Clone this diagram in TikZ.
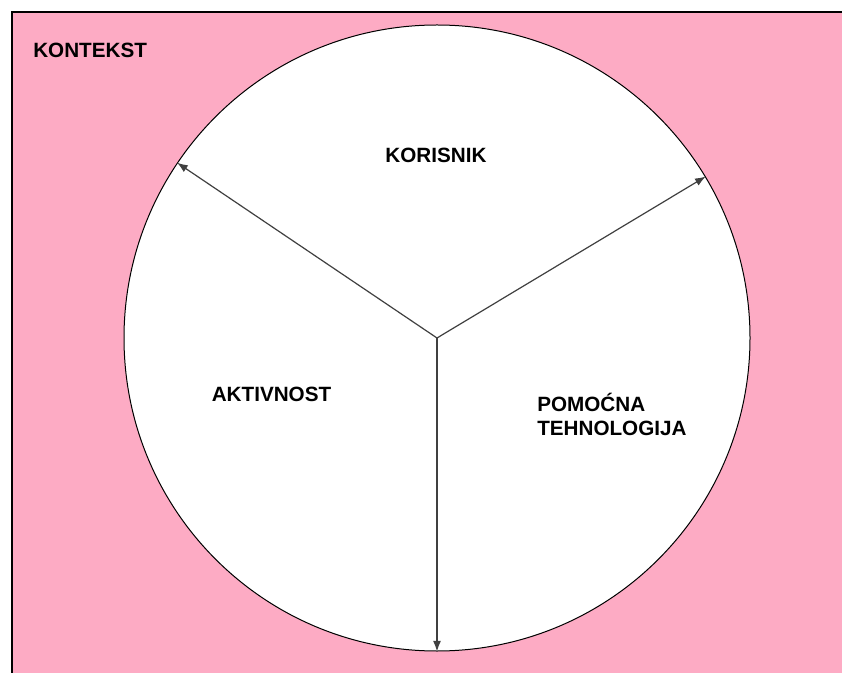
\documentclass[tikz,border=0pt]{standalone}
\usepackage{fontspec}
\setmainfont{Liberation Sans}
\usetikzlibrary{arrows.meta}
\definecolor{ctxpink}{RGB}{253,171,196}
\definecolor{arrgray}{RGB}{64,64,64}
\tikzset{
  lbl/.style={font=\fontsize{15.5}{18}\selectfont\bfseries, inner sep=0pt},
  conn/.style={draw=arrgray, line width=0.9pt, -{Latex[length=8pt,width=6pt]}}
}
\begin{document}
\begin{tikzpicture}[x=0.75pt,y=-0.75pt]
\useasboundingbox (0,0) rectangle (842,673);
\clip (0,0) rectangle (842,673);
\path[fill=ctxpink, draw=black, line width=1.2pt] (12,12) rectangle (860,700);
\node[lbl, anchor=west] (ctx) at (33,50.5) {KONTEKST};
\node[circle, draw=black, fill=white, line width=0.75pt, minimum size=469.5pt, inner sep=0pt] (circ) at (437,338) {};
\coordinate (c) at (437,338);
\draw[conn] (c) -- (circ.146);
\draw[conn] (c) -- (circ.31);
\draw[conn] (c) -- (circ.south);
\node[lbl] (kor) at (436,155) {KORISNIK};
\node[lbl] (akt) at (271.5,394.5) {AKTIVNOST};
\node[lbl, anchor=north west, align=left] (pom) at (537,393) {POMOĆNA\\TEHNOLOGIJA};
\end{tikzpicture}
\end{document}
